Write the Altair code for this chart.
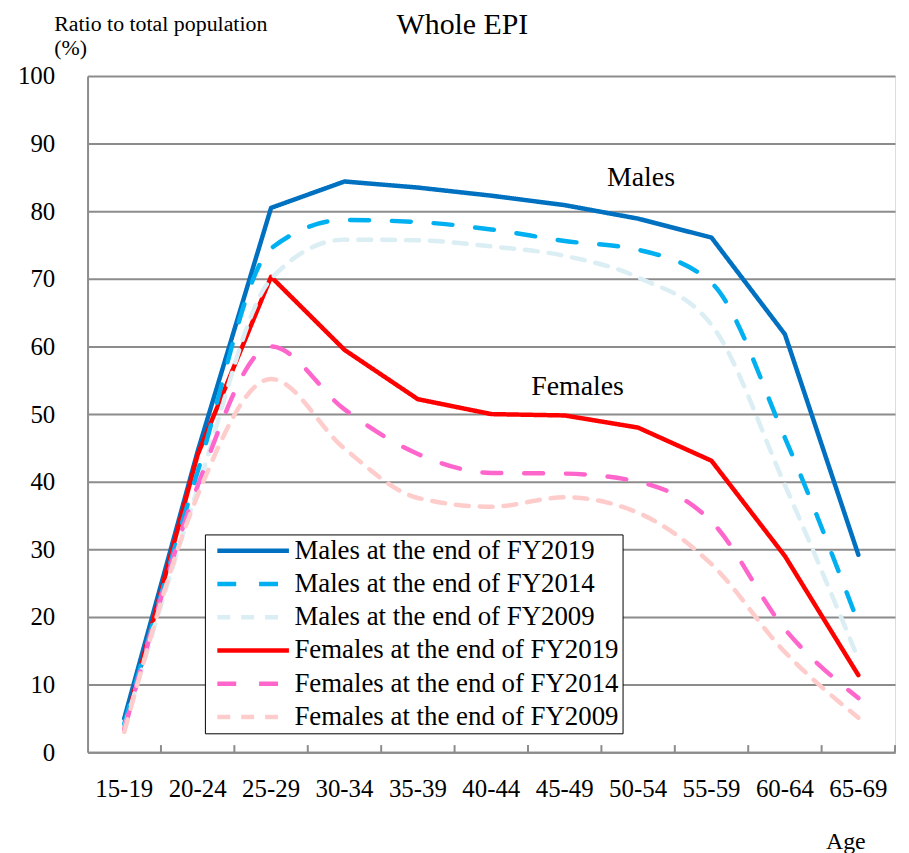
import altair as alt
import pandas as pd

AGES = ["15-19", "20-24", "25-29", "30-34", "35-39", "40-44",
        "45-49", "50-54", "55-59", "60-64", "65-69"]
SERIES = ["Males at the end of FY2019", "Males at the end of FY2014",
          "Males at the end of FY2009", "Females at the end of FY2019",
          "Females at the end of FY2014", "Females at the end of FY2009"]
COLORS = ["#0070C0", "#00B0F0", "#DAEEF3", "#FF0000", "#FF66CC", "#FFCCCC"]
DASHES = [[1, 0], [19, 23], [13, 11], [1, 0], [19, 23], [13, 11]]

MALES_2019 = [5.0, 44.5, 80.5, 84.4, 83.5, 82.3, 80.9, 78.9, 76.1, 61.8, 29.2]
MALES_2014 = [4.2, 41.5, 74.5, 78.7, 78.4, 77.3, 75.6, 74.3, 69.4, 46.5, 19.1]
MALES_2009 = [3.6, 39.0, 70.0, 75.8, 75.7, 74.8, 73.4, 70.2, 63.2, 39.5, 13.8]
FEMALES_2019 = [3.5, 44.0, 70.3, 59.5, 52.2, 50.0, 49.8, 48.0, 43.1, 29.0, 11.4]
FEMALES_2014 = [3.3, 39.4, 60.0, 50.7, 44.1, 41.3, 41.2, 40.0, 34.1, 18.2, 8.0]
FEMALES_2009 = [3.0, 38.0, 55.2, 44.9, 37.6, 36.3, 37.7, 35.4, 27.8, 14.8, 5.1]

ANNOT_TEXT = ["Males", "Females"]
ANNOT_AGE = ["55-59", "50-54"]
ANNOT_Y = [83.8, 52.8]
ANNOT_DX = [-34, -24]

SMOOTHED = [False, True, True, False, True, True]

values = [MALES_2019, MALES_2014, MALES_2009, FEMALES_2019, FEMALES_2014, FEMALES_2009]
rows = []
for s, vals, sm in zip(SERIES, values, SMOOTHED):
    for a, v in zip(AGES, vals):
        rows.append({"age": a, "value": v, "series": s, "smooth": sm})
df = pd.DataFrame(rows)

FONT = "Liberation Serif"
GRID = "#8c8c8c"

x_enc = alt.X("age:N", sort=AGES, bandPosition=0.5,
              scale=alt.Scale(type="band", domain=AGES, paddingInner=0, paddingOuter=0),
              axis=alt.Axis(title="Age", labelAngle=0, labelFont=FONT, labelFontSize=25,
                            labelColor="black", labelPadding=25, ticks=False,
                            domainColor=GRID, domainWidth=2, grid=False,
                            titleFont=FONT, titleFontSize=24, titleFontWeight="normal",
                            titleColor="black", titleX=762, titleY=97,
                            titleAlign="center", titleBaseline="alphabetic",
                            titleAnchor="start"))
y_enc = alt.Y("value:Q",
              scale=alt.Scale(domain=[0, 100], nice=False),
              axis=alt.Axis(title=["Ratio to total population", "(%)"],
                            values=list(range(0, 101, 10)),
                            labelFont=FONT, labelFontSize=25, labelColor="black",
                            labelPadding=33, ticks=False,
                            domainColor=GRID, domainWidth=2,
                            gridColor=GRID, gridWidth=2, grid=True,
                            titleFont=FONT, titleFontSize=22, titleFontWeight="normal",
                            titleColor="black", titleAngle=0, titleAlign="left",
                            titleBaseline="alphabetic", titleX=-34, titleY=-46,
                            titleLineHeight=24, titleAnchor="start"))

legend = alt.Legend(orient="none", legendX=118, legendY=461,
                    title=None, symbolType="stroke",
                    symbolSize=5184, symbolStrokeWidth=4.5,
                    labelFont=FONT, labelFontSize=27,
                    labelColor="black", labelOffset=3,
                    labelExpr="datum.label + '\u00a0\u00a0'",
                    clipHeight=27, rowPadding=5.4, padding=3, symbolOffset=7,
                    strokeColor="black", fillColor="white",
                    labelLimit=500)
color_enc = alt.Color("series:N", scale=alt.Scale(domain=SERIES, range=COLORS), legend=legend)
dash_enc = alt.StrokeDash("series:N", scale=alt.Scale(domain=SERIES, range=DASHES), legend=legend)

base = alt.Chart(df)
solid = base.transform_filter("!datum.smooth").mark_line(
    strokeWidth=4.5, strokeCap="round", strokeJoin="round").encode(
    x=x_enc, y=y_enc, color=color_enc, strokeDash=dash_enc)
smooth = base.transform_filter("datum.smooth").mark_line(
    strokeWidth=4.5, strokeCap="round", interpolate="monotone").encode(
    x=x_enc, y=y_enc, color=color_enc, strokeDash=dash_enc)

ticks_df = pd.DataFrame({"age": AGES})
ticks = alt.Chart(ticks_df).mark_rule(color=GRID, strokeWidth=2).encode(
    x=alt.X("age:N", sort=AGES, bandPosition=1),
    y=alt.datum(0), y2=alt.datum(1.05))

annot_df = pd.DataFrame({"text": ANNOT_TEXT, "age": ANNOT_AGE, "y": ANNOT_Y, "dx": ANNOT_DX})
annot = alt.Chart(annot_df).mark_text(font=FONT, fontSize=28, color="black",
                                      baseline="alphabetic", align="center").encode(
    x=alt.X("age:N", sort=AGES, bandPosition=0.5),
    y=alt.Y("y:Q"),
    xOffset=alt.XOffset("dx:Q", scale=None),
    text="text:N")

chart = alt.layer(solid, smooth, ticks, annot).properties(
    width=812, height=680,
    padding={"left": 9, "top": 0, "right": 5, "bottom": 0},
    title=alt.TitleParams("Whole EPI", font=FONT, fontSize=30, fontWeight="normal",
                          color="black", anchor="middle", dx=-29, frame="group",
                          baseline="alphabetic", offset=-52)
).configure_view(stroke=None).configure(background="white")

chart.save("out.html", embed_options={"renderer": "svg", "actions": False})
